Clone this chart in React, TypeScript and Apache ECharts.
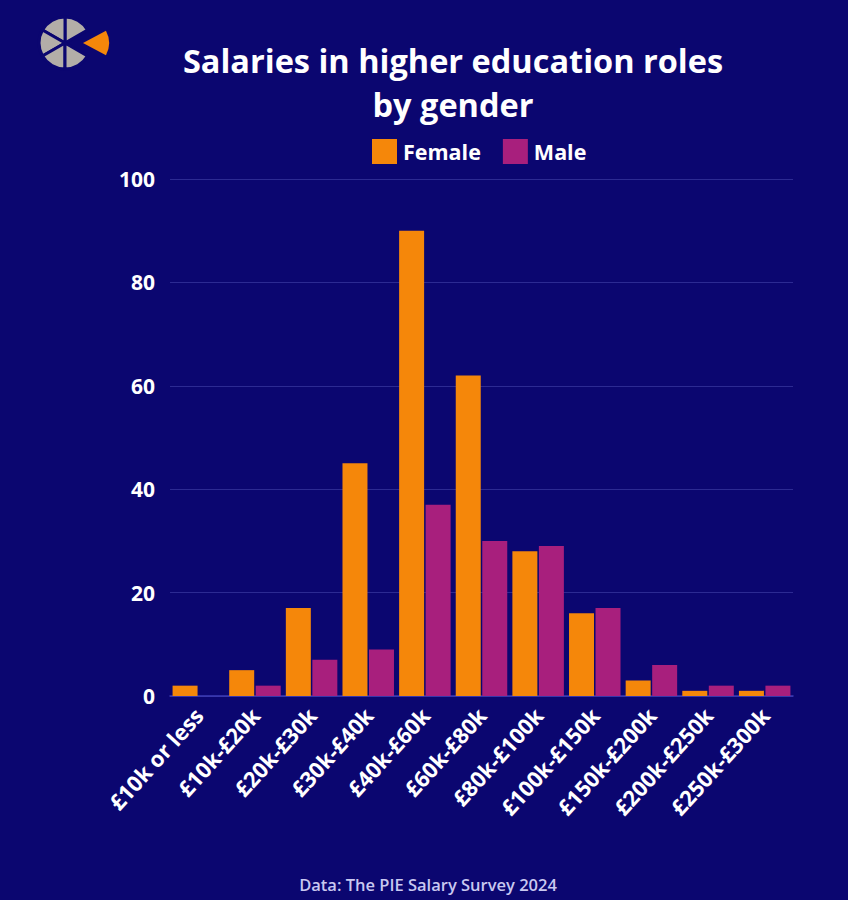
import React, { useEffect, useRef } from "react";
import * as echarts from "echarts";

const categories = [
  "£10k or less",
  "£10k-£20k",
  "£20k-£30k",
  "£30k-£40k",
  "£40k-£60k",
  "£60k-£80k",
  "£80k-£100k",
  "£100k-£150k",
  "£150k-£200k",
  "£200k-£250k",
  "£250k-£300k",
];
const femaleValues = [2, 5, 17, 45, 90, 62, 28, 16, 3, 1, 1];
const maleValues = [0, 2, 7, 9, 37, 30, 29, 17, 6, 2, 2];
const yTicks = { min: 0, max: 100, interval: 20 };

const BG = "#0b0670";
const ORANGE = "#f5870a";
const PURPLE = "#a81f7d";
const FONT = "'Open Sans', 'Noto Sans', sans-serif";

export default function App() {
  const ref = useRef<HTMLDivElement>(null);
  useEffect(() => {
    if (!ref.current) return;
    const chart = echarts.init(ref.current, undefined, { renderer: "svg" });
    const cx = 65, cy = 43, r = 26;
    const deg = (d: number) => (d * Math.PI) / 180;
    const greySectors = [
      [-90, -30],
      [-150, -90],
      [150, 210],
      [90, 150],
      [30, 90],
    ].map(([a, b]) => ({
      type: "sector",
      shape: { cx, cy, r, r0: 0, startAngle: deg(a), endAngle: deg(b) },
      style: { fill: "#b3aea8", stroke: BG, lineWidth: 3 },
    }));
    chart.setOption({
      animation: false,
      backgroundColor: BG,
      textStyle: { fontFamily: FONT },
      graphic: [
        ...greySectors,
        {
          type: "sector",
          shape: { cx: 83, cy: 43, r: 26, r0: 0, startAngle: deg(-28), endAngle: deg(28) },
          style: { fill: ORANGE },
        },
        {
          type: "text",
          x: 453,
          y: 60,
          style: {
            text: "Salaries in higher education roles",
            fill: "#ffffff",
            font: `bold 32.5px ${FONT}`,
            align: "center",
            verticalAlign: "middle",
          },
        },
        {
          type: "text",
          x: 453,
          y: 104,
          style: {
            text: "by gender",
            fill: "#ffffff",
            font: `bold 32.5px ${FONT}`,
            align: "center",
            verticalAlign: "middle",
          },
        },
        {
          type: "text",
          x: 428,
          y: 884,
          style: {
            text: "Data: The PIE Salary Survey 2024",
            fill: "#c9c8f0",
            font: `600 16.5px ${FONT}`,
            align: "center",
            verticalAlign: "middle",
          },
        },
      ],
      legend: {
        left: 372,
        top: 139,
        padding: 0,
        itemWidth: 25,
        itemHeight: 25,
        itemGap: 22,
        icon: "rect",
        textStyle: { color: "#ffffff", fontSize: 21.5, fontWeight: "bold", fontFamily: FONT, padding: [0, 0, 0, 1] },
        data: ["Female", "Male"],
      },
      grid: { left: 170, right: 55, top: 179, bottom: 204, containLabel: false },
      xAxis: {
        type: "category",
        data: categories,
        axisLine: { lineStyle: { color: "#3d3db5", width: 1.5 } },
        axisTick: { show: false },
        axisLabel: {
          rotate: 48,
          interval: 0,
          color: "#ffffff",
          fontSize: 22,
          fontWeight: "bold",
          fontFamily: FONT,
          margin: 15,
        },
      },
      yAxis: {
        type: "value",
        min: yTicks.min,
        max: yTicks.max,
        interval: yTicks.interval,
        axisLine: { show: false },
        axisTick: { show: false },
        splitLine: { lineStyle: { color: "#2c2a92", width: 1 } },
        axisLabel: { color: "#ffffff", fontSize: 21, fontWeight: "bold", fontFamily: FONT, margin: 15 },
      },
      series: [
        {
          name: "Female",
          type: "bar",
          data: femaleValues,
          barWidth: 25,
          barGap: "6%",
          itemStyle: { color: ORANGE },
        },
        {
          name: "Male",
          type: "bar",
          data: maleValues,
          barWidth: 25,
          itemStyle: { color: PURPLE },
        },
      ],
    });
    return () => chart.dispose();
  }, []);
  return (
    <div
      ref={ref}
      style={{ position: "fixed", left: 0, top: 0, width: 848, height: 900, background: BG }}
    />
  );
}
